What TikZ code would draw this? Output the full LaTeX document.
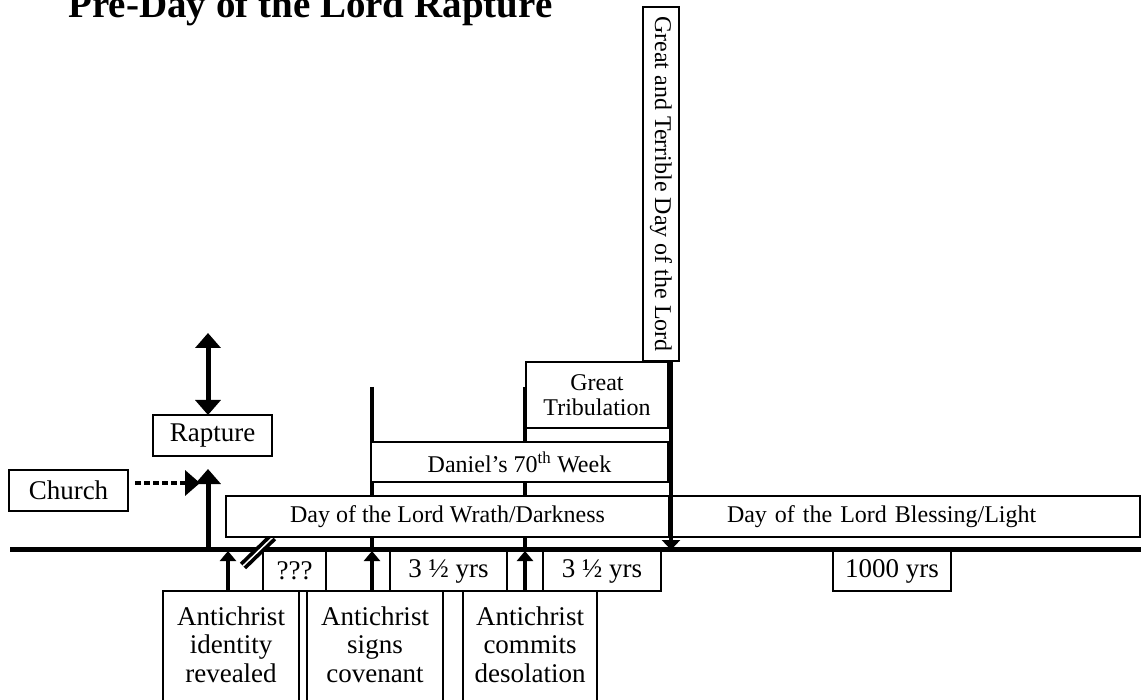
\documentclass[tikz,border=0pt]{standalone}
\usepackage{fontspec}
\setmainfont{Liberation Serif}
\usepackage{tikz}
\usetikzlibrary{arrows.meta}
\usetikzlibrary{positioning}
\tikzset{
    boite/.style = {rectangle, draw, fill=white, line width=1.2pt, inner sep=0pt, outer sep=0pt, align=center},
    grand/.style = {font=\fontsize{27}{28.5}\selectfont},
    petit/.style = {font=\fontsize{24}{25}\selectfont},
    bas/.style = {boite, grand, minimum width=136, inner ysep=15.5, text depth=30},
    epais/.style = {line width=4.5pt},
    fl/.style = {->, line width=5pt},
    flb/.style = {-{Triangle[width=16pt,length=10pt]}, line width=4pt},
    >={Triangle[width=25pt,length=15pt]}
}

\begin{document}
\begin{tikzpicture}[x=1pt, y=-1pt]
                \useasboundingbox (0,0) rectangle (1141,700);
                \node (titre) [anchor=base west, font=\fontsize{39}{40}\selectfont\bfseries] at (65,18) {Pre-Day of the Lord Rapture};

                \coordinate (t0) at (10,549);
                \coordinate (t1) at (1141,549);
                \coordinate (s1) at (372,387);
                \coordinate (s2) at (525,387);
                \draw[line width=5pt] (t0) -- (t1);
                \draw[epais] (s1) -- (s1 |- t0);
                \draw[epais] (s2) -- (s2 |- t0);
                \coordinate (k0) at (243,566);
                \coordinate (k1) at (273,537);
                \draw[line width=9pt] (k0) -- (k1);
                \draw[white, line width=1.5pt] (k0) -- (k1);

                \node (church) [boite, grand, minimum width=119, minimum height=41] at (68.5,490.5) {Church};
                \node (rapture) [boite, grand, minimum width=119, minimum height=41] at (212.5,435.5) {Rapture};
                \node (wrath) [boite, petit, anchor=west, minimum width=443, minimum height=41] at (226,516.5) {Day of the Lord Wrath/Darkness};
                \node (bless) [boite, petit, right=3.5pt of wrath, minimum height=41, inner xsep=54.5, text width=358.5, align=left] {Day of the Lord Blessing/Light};
                \node (daniel) [boite, petit, anchor=west, minimum width=297, minimum height=40] at (371,462) {Daniel’s 70\textsuperscript{th} Week};
                \node (trib) [boite, petit, anchor=north west, minimum width=142, minimum height=66] at (526,362) {Great\\Tribulation};
                \node (terrible) [boite, petit, rotate=-90, minimum width=354, minimum height=36] at (661,184) {Great and Terrible Day of the Lord};

                \node (q) [boite, grand, anchor=north west, minimum width=63, minimum height=40] at (263,551) {???};
                \node (e1) [boite, right=0pt of q, minimum width=64, minimum height=40] {};
                \node (y1) [boite, grand, right=0pt of e1, minimum width=117, minimum height=40] {3 ½ yrs};
                \node (e2) [boite, right=0pt of y1, minimum width=36, minimum height=40] {};
                \node (y2) [boite, grand, right=0pt of e2, minimum width=118, minimum height=40] {3 ½ yrs};
                \node (mil) [boite, grand, anchor=north west, minimum width=118, minimum height=40] at (833,551) {1000 yrs};

                \node (ident) [bas, anchor=north west] at (163,591) {Antichrist\\identity\\revealed};
                \node (sign) [bas, right=8pt of ident] {Antichrist\\signs\\covenant};
                \node (com) [bas, right=20pt of sign, minimum width=134] {Antichrist\\commits\\desolation};

                \coordinate (up) at (208,333);
                \coordinate (r0) at (208,549);
                \coordinate (r1) at (208,469);
                \coordinate (meet) at (200,483);
                \draw[<->, line width=5pt] (up) -- (up |- rapture.north);
                \draw[fl] (r0) -- (r1);
                \draw[fl, line width=4.5pt, dash pattern=on 6pt off 3pt] ([xshift=7pt, yshift=7.5pt]church.east) -- (meet);

                \coordinate (a1) at (228,551);
                \coordinate (a2) at (372,551);
                \coordinate (a3) at (525,551);
                \draw[flb] (a1 |- ident.north) -- (a1);
                \draw[flb] (a2 |- sign.north) -- (a2);
                \draw[flb] (a3 |- com.north) -- (a3);
                \coordinate (g1) at (671,550);
                \draw[-{Triangle[width=18pt,length=10pt]}, line width=4pt] (g1 |- terrible.east) -- (g1);
\end{tikzpicture}
\end{document}
